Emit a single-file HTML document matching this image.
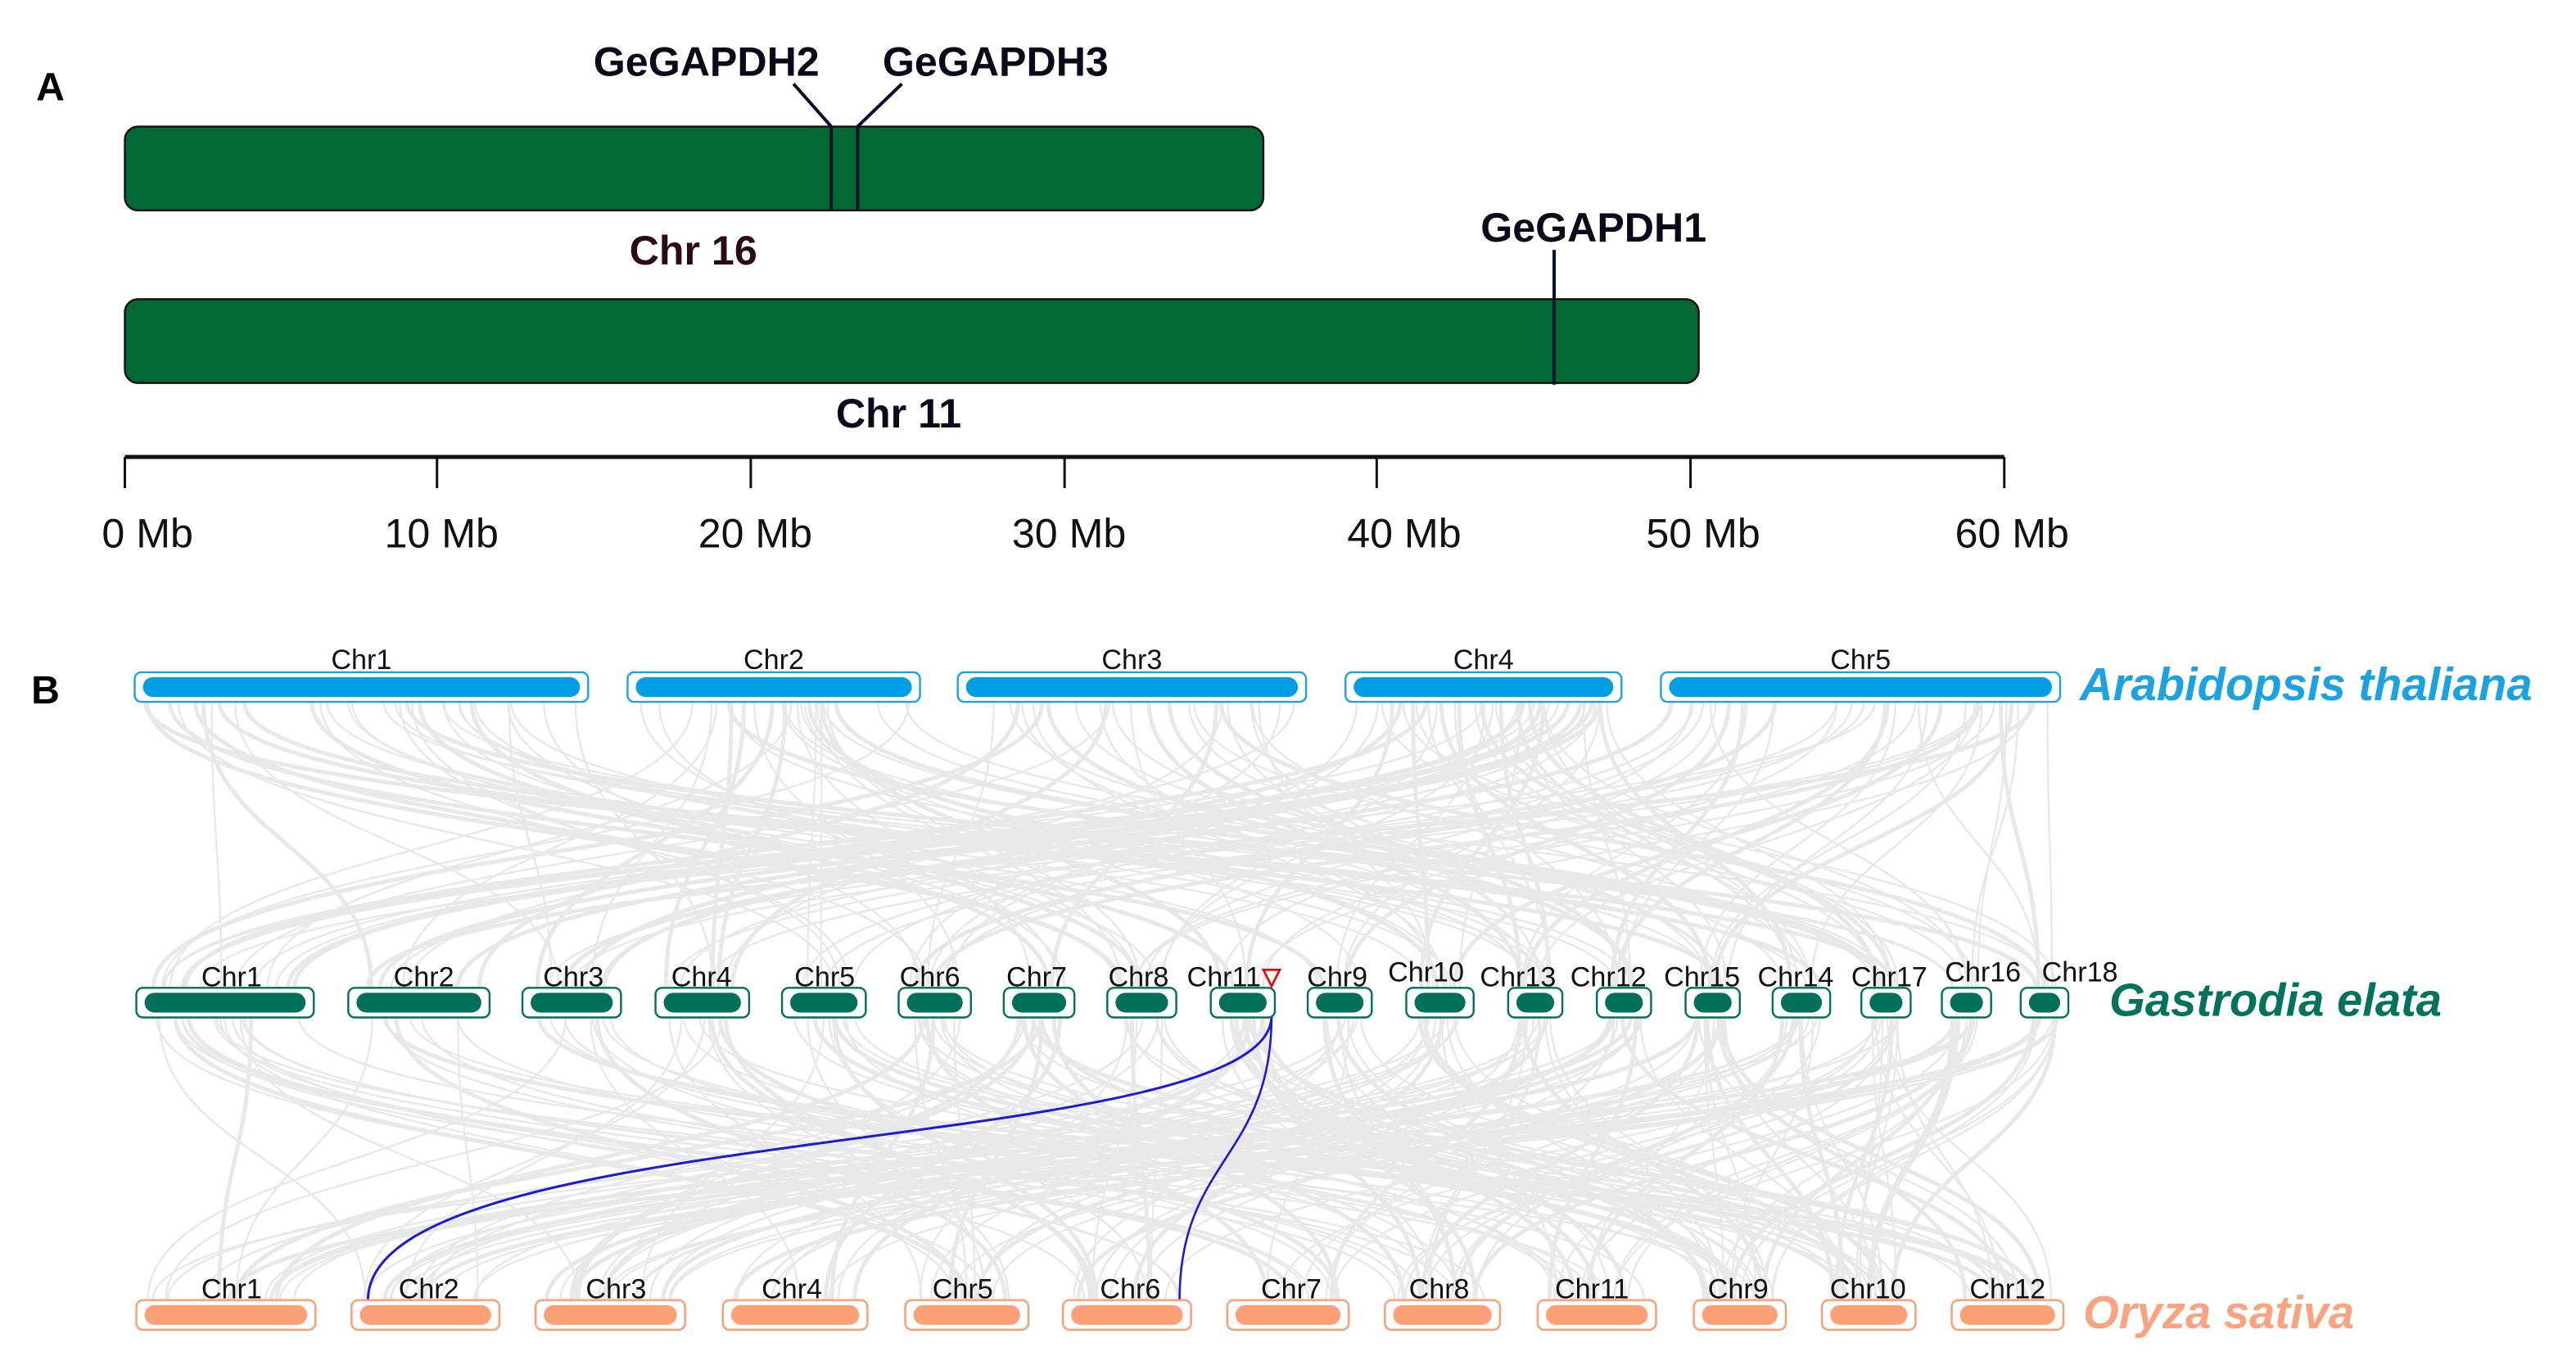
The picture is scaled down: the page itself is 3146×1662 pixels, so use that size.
<!DOCTYPE html>
<html><head><meta charset="utf-8"><style>
html,body{margin:0;padding:0;background:#fff;}
svg{display:block;}
text{font-family:"Liberation Sans",Arial,sans-serif;}
</style></head><body>
<svg id="s" width="3146" height="1662" viewBox="0 0 1568 828" preserveAspectRatio="none" xmlns="http://www.w3.org/2000/svg">
<rect width="1568" height="828" fill="#fff"/>
<!-- Panel A -->
<text x="22" y="61" font-size="24" font-weight="bold">A</text>
<text x="430" y="46" font-size="25" font-weight="bold" text-anchor="middle" fill="#0a0a1a">GeGAPDH2</text>
<text x="606" y="46" font-size="25" font-weight="bold" text-anchor="middle" fill="#0a0a1a">GeGAPDH3</text>
<rect x="76" y="77" width="693" height="51" rx="8" fill="#036934" stroke="#111" stroke-width="1.2"/>
<line x1="483" y1="51" x2="506" y2="77" stroke="#0a1030" stroke-width="2"/>
<line x1="549" y1="51" x2="522" y2="77" stroke="#0a1030" stroke-width="2"/>
<line x1="506" y1="77" x2="506" y2="128" stroke="#0a1030" stroke-width="2"/>
<line x1="522" y1="77" x2="522" y2="128" stroke="#0a1030" stroke-width="2"/>
<text x="422" y="161" font-size="25" font-weight="bold" text-anchor="middle" fill="#2a0a14">Chr 16</text>
<text x="970" y="147" font-size="25" font-weight="bold" text-anchor="middle" fill="#0a0a1a">GeGAPDH1</text>
<rect x="76" y="182" width="958" height="51" rx="8" fill="#036934" stroke="#111" stroke-width="1.2"/>
<line x1="946" y1="152" x2="946" y2="234" stroke="#0a1030" stroke-width="2"/>
<text x="547" y="260" font-size="25" font-weight="bold" text-anchor="middle" fill="#0a0a1a">Chr 11</text>
<line x1="76" y1="278" x2="1220" y2="278" stroke="#111" stroke-width="2.5"/>
<g stroke="#111" stroke-width="1.5">
<line x1="76" y1="278" x2="76" y2="297"/><line x1="266" y1="278" x2="266" y2="297"/><line x1="457" y1="278" x2="457" y2="297"/><line x1="648" y1="278" x2="648" y2="297"/><line x1="838" y1="278" x2="838" y2="297"/><line x1="1029" y1="278" x2="1029" y2="297"/><line x1="1220" y1="278" x2="1220" y2="297"/>
</g>
<g font-size="25" fill="#111">
<text x="62" y="333">0 Mb</text><text x="234" y="333">10 Mb</text><text x="425" y="333">20 Mb</text><text x="616" y="333">30 Mb</text><text x="820" y="333">40 Mb</text><text x="1002" y="333">50 Mb</text><text x="1190" y="333">60 Mb</text>
</g>
<!-- Panel B -->
<text x="19" y="428" font-size="24" font-weight="bold">B</text>
<g id="gray" fill="none" stroke="#e8e8e8" stroke-width="1.4"></g>
<path d="M774,618 C774,705 224,680 224,791" fill="none" stroke="#1a1adb" stroke-width="1.5"/>
<path d="M774,618 C774,705 718,705 718,791" fill="none" stroke="#1a1adb" stroke-width="1.3"/>
<g id="chrs"></g>
<path d="M769,590 L779,590 L774,600 Z" fill="none" stroke="#e00" stroke-width="1.3"/>
<text x="1266" y="426" font-size="28" font-weight="bold" font-style="italic" fill="#1aa3e0">Arabidopsis thaliana</text>
<text x="1284" y="618" font-size="28" font-weight="bold" font-style="italic" fill="#00735a">Gastrodia elata</text>
<text x="1268" y="808" font-size="28" font-weight="bold" font-style="italic" fill="#f9a47e">Oryza sativa</text>
</svg>
<script>
var NS="http://www.w3.org/2000/svg";
var ch=document.getElementById("chrs"), gr=document.getElementById("gray");
function el(t,a,p){var e=document.createElementNS(NS,t);for(var k in a)e.setAttribute(k,a[k]);(p||ch).appendChild(e);return e;}
function row(list,y,stroke,fill,ly){
 list.forEach(function(c){
  var x1=c[1],x2=c[2];
  el("rect",{x:x1,y:y,width:x2-x1,height:18,rx:4,fill:"#fff",stroke:stroke,"stroke-width":1.2});
  el("rect",{x:x1+5,y:y+3,width:x2-x1-10,height:12,rx:6,fill:fill});
  var t=el("text",{x:c[3]||(x1+x2)/2,y:c[4]||ly,"font-size":17,"text-anchor":"middle",fill:"#111"});t.textContent=c[0];
 });
}
var at=[["Chr1",82,358],["Chr2",382,560],["Chr3",583,795],["Chr4",819,987],["Chr5",1011,1254]];
var ge=[["Chr1",83,191,141],["Chr2",212,298,258],["Chr3",318,378,349],["Chr4",399,456,427],["Chr5",476,527,502],["Chr6",547,591,566],["Chr7",611,654,631],["Chr8",674,716,693],["Chr11",737,776,745],["Chr9",796,835,814],["Chr10",856,897,868,597],["Chr13",918,951,924],["Chr12",972,1005,979],["Chr15",1026,1059,1036],["Chr14",1079,1114,1093],["Chr17",1133,1163,1150],["Chr16",1182,1212,1207,597],["Chr18",1230,1259,1266,597]];
var os=[["Chr1",83,192,141],["Chr2",214,304,261],["Chr3",326,417,375],["Chr4",440,528,482],["Chr5",551,626,586],["Chr6",647,725,688],["Chr7",747,821,786],["Chr8",843,913,876],["Chr11",936,1008,969],["Chr9",1031,1087,1058],["Chr10",1109,1166,1137],["Chr12",1188,1256,1222]];
var seed=7;function r(){seed=(seed*16807)%2147483647;return seed/2147483647;}
function pick(l){var c=l[Math.floor(r()*l.length)];return c[1]+6+r()*(c[2]-c[1]-12);}
for(var i=0;i<170;i++){var a=pick(at),b=pick(ge);var y1=427,y2=601,m=(y1+y2)/2;
 el("path",{d:"M"+a+","+y1+" C"+a+","+m+" "+b+","+m+" "+b+","+y2,"stroke-width":(r()<0.3?2.5:1.2)},gr);}
for(var i=0;i<220;i++){var a=pick(ge),b=pick(os);var y1=618,y2=791,m=(y1+y2)/2;
 el("path",{d:"M"+a+","+y1+" C"+a+","+m+" "+b+","+m+" "+b+","+y2,"stroke-width":(r()<0.3?2.5:1.2)},gr);}
row(at,409,"#1aa3e0","#009fe3",407);
row(ge,601,"#00705a","#00705a",600);
row(os,791,"#fc9c74","#fca078",790);
</script>
</body></html>
